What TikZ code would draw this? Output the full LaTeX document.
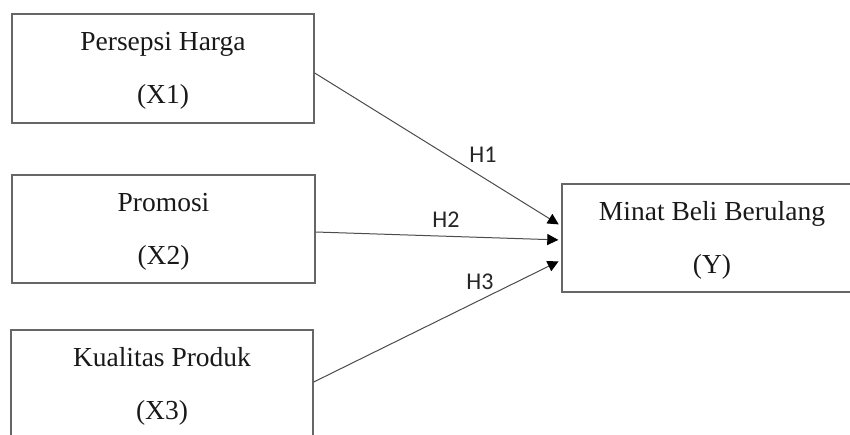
\documentclass[tikz,border=0pt]{standalone}
\usepackage{fontspec}
\setmainfont{Liberation Serif}
\newfontfamily\labfont{Carlito}
\usetikzlibrary{arrows.meta}
\begin{document}
\begin{tikzpicture}[x=1pt,y=-1pt,
  box/.style={draw=black!60,line width=1.4pt,inner sep=0pt,fill=none},
  txt/.style={anchor=base,inner sep=0pt,font=\fontsize{27.5}{30}\selectfont,text=black!90},
  hlab/.style={inner sep=0pt,font=\labfont\fontsize{24}{26}\selectfont,text=black!85},
  arr/.style={draw=black!70,line width=1pt,-{Triangle[length=11pt,width=11pt,fill=black,color=black]},shorten >=3pt}]
\useasboundingbox (0,0) rectangle (850,434);
\fill[white] (0,0) rectangle (850,434);
\clip (0,0) rectangle (850,434);
% boxes
\node[box,minimum width=302pt,minimum height=109pt] (b1) at (163,68.5) {};
\node[box,minimum width=303pt,minimum height=108pt] (b2) at (163.5,229) {};
\node[box,minimum width=302pt,minimum height=110pt] (b3) at (162,385) {};
\node[box,minimum width=300pt,minimum height=108pt] (y) at (712,238) {};
% texts
\node[txt] (t1a) at (163,50) {Persepsi Harga};
\node[txt] (t1b) at (163,103) {(X1)};
\node[txt] (t2a) at (163.5,211) {Promosi};
\node[txt] (t2b) at (163.5,264) {(X2)};
\node[txt] (t3a) at (162,366) {Kualitas Produk};
\node[txt] (t3b) at (162,419) {(X3)};
\node[txt] (tya) at (712,220) {Minat Beli Berulang};
\node[txt] (tyb) at (712,273) {(Y)};
% arrows
\draw[arr] ([yshift=-4.5pt]b1.east) -- ([yshift=12pt]y.west);
\draw[arr] ([yshift=-3pt]b2.east) -- ([yshift=-2pt]y.west);
\draw[arr] ([yshift=3pt]b3.east) -- ([yshift=-22pt]y.west);
% labels
\node[hlab] (h1) at (483,155) {H1};
\node[hlab] (h2) at (446,220) {H2};
\node[hlab] (h3) at (480,282) {H3};
\end{tikzpicture}
\end{document}
